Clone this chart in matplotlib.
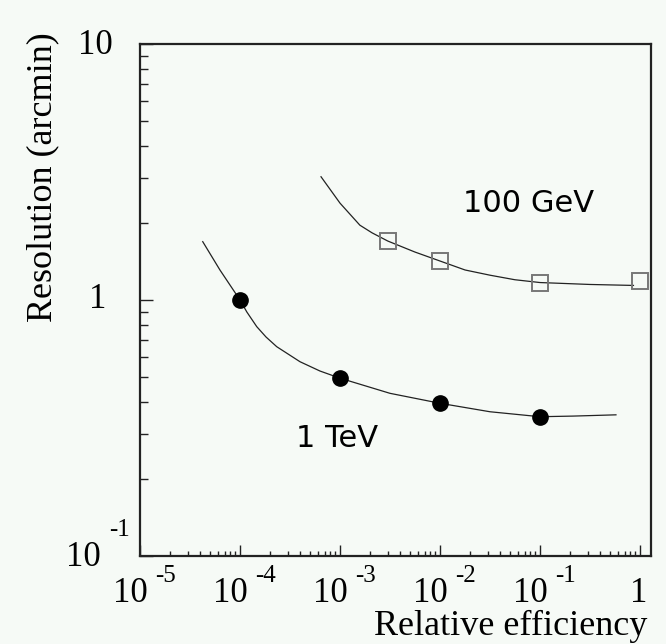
import matplotlib.pyplot as plt
import numpy as np

# measured points
eff_tev = [1e-4, 1e-3, 1e-2, 1e-1]
res_tev = [1.0, 0.495, 0.395, 0.350]
eff_gev = [3e-3, 1e-2, 1e-1, 1.0]
res_gev = [1.70, 1.42, 1.17, 1.19]

# fitted curves
curve_tev_x = [4.24e-5, 6.3e-5, 1e-4, 1.17e-4, 1.47e-4, 1.82e-4, 2.33e-4, 3.98e-4, 6.3e-4, 1e-3, 3.16e-3,
               1e-2, 3.16e-2, 0.1, 0.215, 0.575]
curve_tev_y = [1.69, 1.31, 1.0, 0.898, 0.787, 0.717, 0.657, 0.574, 0.528, 0.495, 0.432,
               0.395, 0.366, 0.350, 0.352, 0.356]
curve_gev_x = [6.46e-4, 1e-3, 1.58e-3, 2.09e-3, 3e-3, 5.6e-3, 1e-2, 1.78e-2, 3.16e-2, 5.6e-2, 0.1, 0.316, 0.86]
curve_gev_y = [3.03, 2.39, 1.96, 1.83, 1.70, 1.54, 1.42, 1.31, 1.25, 1.20, 1.17, 1.15, 1.14]

xticks = [1e-5, 1e-4, 1e-3, 1e-2, 1e-1, 1]
xticklabels = [('10', '-5'), ('10', '-4'), ('10', '-3'), ('10', '-2'), ('10', '-1'), ('1', '')]

bg = '#f6faf6'
serif = 'Liberation Serif'

fig = plt.figure(figsize=(6.66, 6.44), dpi=100, facecolor=bg)
ax = fig.add_axes([140/666, 1-556/644, 511/666, 512/644], facecolor=bg)

ax.plot(curve_tev_x, curve_tev_y, color='#222222', lw=0.9, zorder=2)
ax.plot(curve_gev_x, curve_gev_y, color='#222222', lw=0.9, zorder=2)
ax.plot(eff_tev, res_tev, 'o', color='black', ms=11, zorder=3)
ax.plot(eff_gev, res_gev, 's', mfc='none', mec='#777777', mew=1.4, ms=12, zorder=3, clip_on=False)

ax.set_xscale('log')
ax.set_yscale('log')
ax.set_xlim(1e-5, 10**0.11)
ax.set_ylim(0.1, 10)
ax.set_xticks(xticks)
ax.set_yticks([0.1, 1, 10])
ax.tick_params(which='both', direction='in', top=False, right=False, labelbottom=False, labelleft=False, color='#222222')
ax.tick_params(axis='x', which='major', length=8, width=1)
ax.tick_params(axis='x', which='minor', length=3.8, width=1)
ax.tick_params(axis='y', which='major', length=9, width=1)
ax.tick_params(axis='y', which='minor', length=5.5, width=1)
for s in ax.spines.values():
    s.set_linewidth(1.6)
    s.set_color('#222222')

# ROOT style tick labels with detached exponents
for x, (base, ex) in zip(xticks, xticklabels):
    ax.annotate(base, xy=(x, 0), xycoords=('data', 'axes fraction'), xytext=(-10 if ex else -1, -38),
                textcoords='offset pixels', ha='center', va='center', fontsize=25, family=serif, annotation_clip=False)
    if ex:
        ax.annotate(ex, xy=(x, 0), xycoords=('data', 'axes fraction'), xytext=(25, -20),
                    textcoords='offset pixels', ha='center', va='center', fontsize=18, family=serif, annotation_clip=False)

ax.annotate('10', xy=(0, 10), xycoords=('axes fraction', 'data'), xytext=(-45, -1), textcoords='offset pixels',
            ha='center', va='center', fontsize=25, family=serif, annotation_clip=False)
ax.annotate('1', xy=(0, 1), xycoords=('axes fraction', 'data'), xytext=(-42, 0), textcoords='offset pixels',
            ha='center', va='center', fontsize=25, family=serif, annotation_clip=False)
ax.annotate('10', xy=(0, 0.1), xycoords=('axes fraction', 'data'), xytext=(-57, -1), textcoords='offset pixels',
            ha='center', va='center', fontsize=25, family=serif, annotation_clip=False)
ax.annotate('-1', xy=(0, 0.1), xycoords=('axes fraction', 'data'), xytext=(-20, 26), textcoords='offset pixels',
            ha='center', va='center', fontsize=18, family=serif, annotation_clip=False)

fig.text(647/666, 1-635/644, 'Relative efficiency', ha='right', va='baseline', fontsize=26, family=serif)
fig.text(43/666, 1-32/644, 'Resolution (arcmin)', ha='center', va='top', rotation=90, fontsize=26, family=serif)

ax.text(0.632, 0.672, '100 GeV', transform=ax.transAxes, fontsize=22, va='baseline', ha='left')
ax.text(0.305, 0.213, '1 TeV', transform=ax.transAxes, fontsize=22, va='baseline', ha='left')

plt.savefig('out.png', dpi=100, facecolor=bg)
